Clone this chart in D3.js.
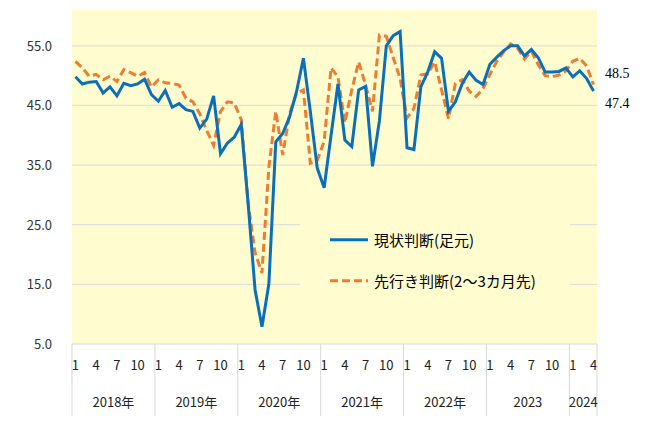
<!DOCTYPE html>
<html><head><meta charset="utf-8">
<script src="https://cdn.jsdelivr.net/npm/d3@7"></script>
<style>body{margin:0;background:#fff}</style>
</head><body><div id="chart"></div>
<script>
// values, monthly Jan 2018 - Apr 2024
const years = ["2018年","2019年","2020年","2021年","2022年","2023","2024"];
const monthTicks = [1,4,7,10];
const yTicks = [5,15,25,35,45,55];
const current = [
  49.8,48.6,48.9,49.0,47.1,48.1,46.6,48.7,48.3,48.6,49.4,46.8,
  45.7,47.5,44.7,45.3,44.3,44.0,41.2,42.7,46.6,36.9,38.7,39.7,
  41.8,28.5,14.1,7.9,15.1,38.9,40.3,43.1,47.3,52.9,44.0,34.5,
  31.2,40.0,48.6,39.2,38.1,47.6,48.2,34.8,42.4,55.0,56.7,57.4,
  37.9,37.6,48.1,50.6,54.0,52.9,44.0,45.6,48.7,50.6,49.2,48.5,
  51.9,53.1,54.2,55.0,55.0,53.3,54.4,53.0,50.6,50.6,50.7,51.3,
  49.8,50.8,49.5,47.4];
const outlook = [
  52.4,51.3,49.9,50.2,49.3,49.9,49.0,51.0,50.5,49.9,50.5,48.1,
  49.3,48.8,48.7,48.4,46.2,45.6,43.6,40.8,38.3,44.0,45.6,45.4,
  42.6,28.6,20.3,16.9,34.7,44.0,36.7,43.6,47.0,47.6,35.3,35.8,
  39.0,51.3,49.8,42.1,47.6,52.3,48.4,44.0,56.8,56.6,53.0,49.5,
  42.9,44.5,50.1,50.3,52.3,47.6,42.8,48.7,49.3,47.4,46.5,47.8,
  50.2,52.4,54.0,55.3,54.6,52.8,54.1,51.8,50.0,49.8,50.1,50.8,
  52.4,52.9,51.6,48.5];
const seriesNames = ["現状判断(足元)","先行き判断(2～3カ月先)"];

const W = 653, H = 429;
const margin = {top: 10, left: 72, right: 56, bottom: 85};
const width = W - margin.left - margin.right, height = H - margin.top - margin.bottom;

const svg = d3.select("#chart").append("svg").attr("width", W).attr("height", H)
  .style("font-family", "'Noto Sans CJK JP', sans-serif");
const g = svg.append("g").attr("transform", `translate(${margin.left},${margin.top})`);

const idx = d3.range(current.length);
const x = d3.scaleBand().domain(idx).range([0, width]);
const cx = i => x(i) + x.bandwidth() / 2;
const y = d3.scaleLinear().domain([5, 61]).range([height, 0]);

g.append("rect").attr("width", width).attr("height", height).attr("fill", "#fffdd0");

// gridlines
g.selectAll(".grid").data(yTicks.slice(1)).join("line")
  .attr("x1", 0).attr("x2", width)
  .attr("y1", d => y(d)).attr("y2", d => y(d))
  .attr("stroke", "#e2e2dc").attr("stroke-width", 1.3);
g.append("line").attr("x1", 0).attr("x2", width).attr("y1", height).attr("y2", height)
  .attr("stroke", "#d9d9d9");

// y labels
g.selectAll(".yl").data(yTicks).join("text")
  .attr("x", -20).attr("y", d => y(d) + 5).attr("text-anchor", "end")
  .attr("font-size", 13).attr("fill", "#333").text(d => d.toFixed(1));

// month labels + year separators
const monthIdx = idx.filter(i => monthTicks.includes(i % 12 + 1));
g.selectAll(".ml").data(monthIdx).join("text")
  .attr("x", i => cx(i)).attr("y", height + 26).attr("text-anchor", "middle")
  .attr("font-size", 13).attr("fill", "#222").text(i => i % 12 + 1);
const yearStarts = idx.filter(i => i % 12 === 0);
g.selectAll(".sep").data(yearStarts.concat([current.length])).join("line")
  .attr("x1", i => x(i) === undefined ? width : x(i)).attr("x2", i => x(i) === undefined ? width : x(i))
  .attr("y1", height).attr("y2", height + 72).attr("stroke", "#d9d9d9");
g.selectAll(".yr").data(yearStarts).join("text")
  .attr("x", (s, k) => { const e = Math.min(s + 12, current.length); return (x(s) + (e < current.length ? x(e) : width)) / 2; })
  .attr("y", height + 63).attr("text-anchor", "middle")
  .attr("font-size", 13).attr("fill", "#222").text((s, k) => years[k]);

// legend background box hiding gridlines
g.append("rect").attr("x", 228).attr("y", y(30.5)).attr("width", 270).attr("height", y(9) - y(30.5))
  .attr("fill", "#fffdd0");

const line = d3.line().x((d, i) => cx(i)).y(d => y(d));
g.append("path").datum(outlook).attr("d", line).attr("fill", "none")
  .attr("stroke", "#ed7d31").attr("stroke-width", 3).attr("stroke-dasharray", "8,4");
g.append("path").datum(current).attr("d", line).attr("fill", "none")
  .attr("stroke", "#0a6fba").attr("stroke-width", 3);

// end labels
g.append("text").attr("x", width + 8).attr("y", y(outlook[outlook.length - 1]) - 7)
  .attr("font-size", 14).attr("font-family", "'Liberation Serif', serif").text(outlook[outlook.length - 1].toFixed(1));
g.append("text").attr("x", width + 8).attr("y", y(current[current.length - 1]) + 17)
  .attr("font-size", 14).attr("font-family", "'Liberation Serif', serif").text(current[current.length - 1].toFixed(1));

// legend
const leg = g.append("g").attr("transform", `translate(258,${y(22.5)})`);
leg.append("line").attr("x1", 0).attr("x2", 38).attr("stroke", "#0a6fba").attr("stroke-width", 3);
leg.append("text").attr("x", 44).attr("y", 6).attr("font-size", 15).text(seriesNames[0]);
leg.append("line").attr("x1", 0).attr("x2", 38).attr("y1", 41).attr("y2", 41)
  .attr("stroke", "#ed7d31").attr("stroke-width", 3).attr("stroke-dasharray", "8,4");
leg.append("text").attr("x", 44).attr("y", 47).attr("font-size", 15).text(seriesNames[1]);
</script></body></html>
